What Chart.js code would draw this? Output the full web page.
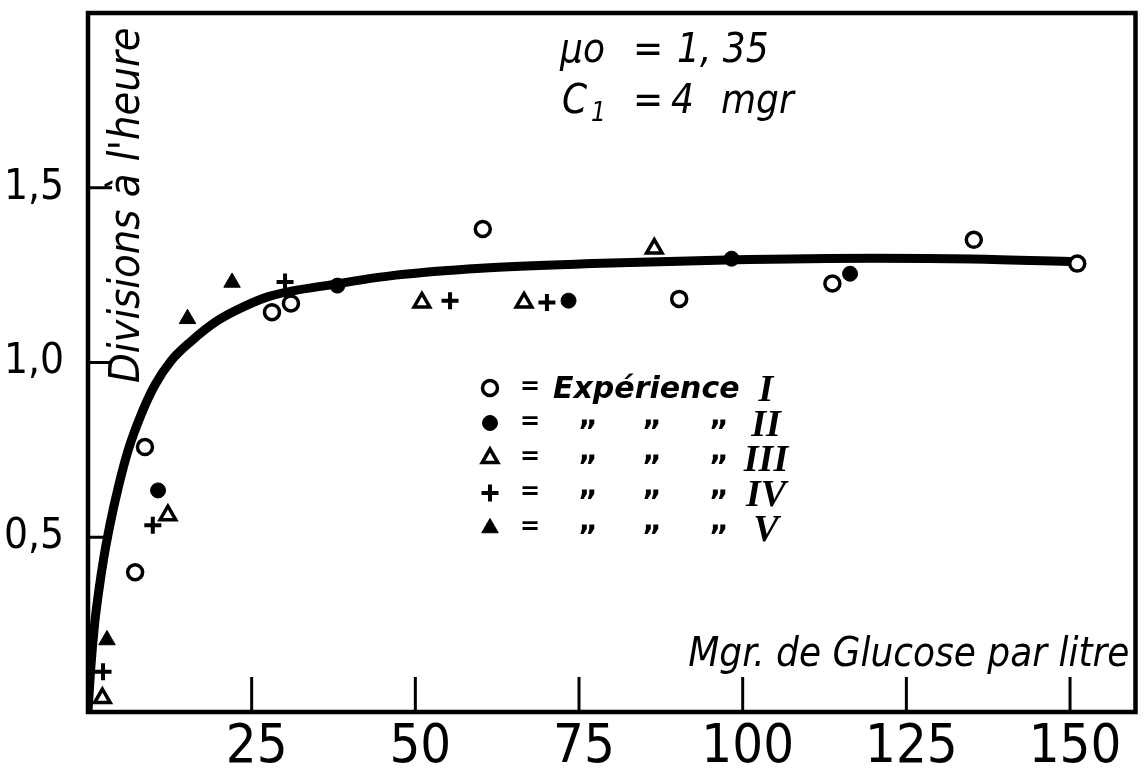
<!DOCTYPE html>
<html lang="fr">
<head>
<meta charset="utf-8">
<title>Divisions à l'heure — Glucose</title>
<script src="https://cdn.jsdelivr.net/npm/chart.js@4/dist/chart.umd.min.js"></script>
<style>
  html, body { margin: 0; padding: 0; background: #fff; }
  #wrap { width: 1148px; height: 771px; }
  canvas { display: block; }
</style>
</head>
<body>
<div id="wrap"><canvas id="c" width="1148" height="771"></canvas></div>
<script>
// Glucose concentration (mg per litre) and growth rate (divisions per hour)
const expI_x   = [7.2, 8.7, 28.1, 31.0, 60.3, 90.3, 113.7, 135.3, 151.1];
const expI_y   = [0.40, 0.758, 1.144, 1.169, 1.382, 1.182, 1.226, 1.351, 1.283];
const expII_x  = [10.7, 38.1, 73.4, 98.3, 116.4];
const expII_y  = [0.634, 1.22, 1.177, 1.297, 1.254];
const expIII_x = [2.2, 12.2, 51.0, 66.6, 86.5];
const expIII_y = [0.04, 0.563, 1.172, 1.172, 1.326];
const expIV_x  = [2.3, 9.9, 30.1, 55.3, 70.1];
const expIV_y  = [0.115, 0.534, 1.23, 1.177, 1.172];
const expV_x   = [2.9, 15.2, 22.0];
const expV_y   = [0.206, 1.125, 1.229];

// Fitted curve (mu0 = 1,35 ; C1 = 4 mgr), as drawn
const curveX = [0, 0.4, 1.0, 1.6, 2.4, 3.4, 4.65, 6.15, 8.2, 10.2, 12.7, 15.7, 19.8, 23.8, 27.8, 38, 47, 60, 77, 97.5, 120, 135, 151];
const curveY = [0, 0.12, 0.25, 0.34, 0.44, 0.54, 0.645, 0.75, 0.855, 0.935, 1.005, 1.06, 1.12, 1.16, 1.19, 1.225, 1.25, 1.27, 1.283, 1.293, 1.298, 1.296, 1.288];

const xTickValues = [25, 50, 75, 100, 125, 150];
const yTickValues = [0.5, 1.0, 1.5];
const yTickLabels = ['0,5', '1,0', '1,5'];

const expNames = ['I', 'II', 'III', 'IV', 'V'];
const xTitle = 'Mgr. de Glucose par litre';
const yTitle = 'Divisions à l\'heure';

const NARROW = '"Liberation Sans Narrow", "DejaVu Sans Condensed", "Liberation Sans", sans-serif';
const INK = '#000';

const pts = (xs, ys) => xs.map((x, i) => ({ x, y: ys[i] }));

const markerStyles = [
  { pointStyle: 'circle',   pointRadius: 7.5, pointBorderWidth: 3.5, pointBackgroundColor: '#fff', pointBorderColor: INK },
  { pointStyle: 'circle',   pointRadius: 7.5, pointBorderWidth: 1,   pointBackgroundColor: INK,    pointBorderColor: INK },
  { pointStyle: 'triangle', pointRadius: 9,   pointBorderWidth: 3.5, pointBackgroundColor: '#fff', pointBorderColor: INK },
  { pointStyle: 'cross',    pointRadius: 8.5, pointBorderWidth: 4,   pointBackgroundColor: INK,    pointBorderColor: INK },
  { pointStyle: 'triangle', pointRadius: 9.5, pointBorderWidth: 1,   pointBackgroundColor: INK,    pointBorderColor: INK }
];
const seriesData = [
  pts(expI_x, expI_y), pts(expII_x, expII_y), pts(expIII_x, expIII_y),
  pts(expIV_x, expIV_y), pts(expV_x, expV_y)
];

const datasets = seriesData.map((d, i) => Object.assign({
  label: 'Expérience ' + expNames[i],
  data: d,
  showLine: false,
  order: 0
}, markerStyles[i]));

datasets.push({
  label: 'courbe',
  data: pts(curveX, curveY),
  showLine: true,
  borderColor: INK,
  borderWidth: 9,
  pointRadius: 0,
  cubicInterpolationMode: 'monotone',
  fill: false,
  order: 10
});

// Frame, inner tick marks and all free text
const decorations = {
  id: 'decorations',
  beforeDatasetsDraw(chart) {
    const { ctx, chartArea: a, scales } = chart;
    ctx.save();
    ctx.strokeStyle = INK;
    ctx.lineCap = 'butt';
    ctx.lineWidth = 3;
    xTickValues.forEach(v => {
      const px = scales.x.getPixelForValue(v);
      ctx.beginPath(); ctx.moveTo(px, a.bottom); ctx.lineTo(px, a.bottom - 35); ctx.stroke();
    });
    yTickValues.forEach(v => {
      const py = scales.y.getPixelForValue(v);
      ctx.beginPath(); ctx.moveTo(a.left, py); ctx.lineTo(a.left + 24, py); ctx.stroke();
    });
    ctx.restore();
  },
  afterDatasetsDraw(chart) {
    const { ctx, chartArea: a } = chart;
    ctx.save();
    ctx.strokeStyle = INK;
    ctx.lineWidth = 4.5;
    ctx.strokeRect(a.left, a.top, a.right - a.left, a.bottom - a.top);
    ctx.restore();
  },
  afterDraw(chart) {
    const { ctx, chartArea: a } = chart;
    const L = a.left, T = a.top;
    ctx.save();
    ctx.fillStyle = INK;

    // y title, reading upward
    ctx.save();
    ctx.translate(L + 51, T + 370);
    ctx.rotate(-Math.PI / 2);
    ctx.font = 'italic 43px ' + NARROW;
    ctx.textAlign = 'left';
    ctx.textBaseline = 'alphabetic';
    ctx.fillText(yTitle, 0, 0);
    ctx.restore();

    // x title
    ctx.font = 'italic 40px ' + NARROW;
    ctx.textAlign = 'right';
    ctx.textBaseline = 'alphabetic';
    ctx.fillText(xTitle, a.right - 6, a.bottom - 46);

    // parameters
    ctx.textAlign = 'left';
    ctx.font = 'italic 40px ' + NARROW;
    ctx.fillText('\u03BCo', L + 472, T + 49);
    ctx.fillText('=', L + 545, T + 49);
    ctx.fillText('1, 35', L + 589, T + 49);
    ctx.fillText('C', L + 474, T + 100);
    ctx.font = 'italic 26px ' + NARROW;
    ctx.fillText('1', L + 503, T + 108);
    ctx.font = 'italic 40px ' + NARROW;
    ctx.fillText('=', L + 545, T + 100);
    ctx.fillText('4', L + 583, T + 100);
    ctx.fillText('mgr', L + 633, T + 100);

    // key
    const symX = L + 402, eqX = L + 442, numX = L + 678;
    const dittoX = [L + 500, L + 564, L + 631];
    const rowY0 = T + 375, rowStep = 35;
    expNames.forEach((name, i) => {
      const y = rowY0 + i * rowStep;
      const st = markerStyles[i];
      ctx.fillStyle = st.pointBackgroundColor;
      ctx.strokeStyle = st.pointBorderColor;
      ctx.lineWidth = st.pointBorderWidth;
      Chart.helpers.drawPoint(ctx, {
        pointStyle: st.pointStyle, radius: st.pointRadius, rotation: 0, borderWidth: st.pointBorderWidth
      }, symX, y);
      ctx.fillStyle = INK;
      ctx.textBaseline = 'middle';
      ctx.textAlign = 'center';
      ctx.font = 'bold 24px "DejaVu Sans", sans-serif';
      ctx.fillText('=', eqX, y);
      if (i === 0) {
        ctx.textAlign = 'left';
        ctx.textBaseline = 'alphabetic';
        ctx.font = 'italic bold 30px "DejaVu Sans", sans-serif';
        ctx.fillText('Expérience', L + 465, y + 10);
      } else {
        ctx.textAlign = 'center';
        ctx.textBaseline = 'alphabetic';
        ctx.font = 'bold 30px "DejaVu Sans", sans-serif';
        dittoX.forEach(dx => ctx.fillText('\u201E', dx, y + 2));
      }
      ctx.textAlign = 'center';
      ctx.textBaseline = 'alphabetic';
      ctx.font = 'italic bold 38px "Liberation Serif", serif';
      ctx.fillText(name, numX, y + 13);
    });
    ctx.restore();
  }
};

new Chart(document.getElementById('c'), {
  type: 'scatter',
  data: { datasets },
  plugins: [decorations],
  options: {
    responsive: false,
    animation: false,
    layout: { padding: { top: 13, right: 2, left: 0, bottom: 0 } },
    plugins: { legend: { display: false }, tooltip: { enabled: false } },
    scales: {
      x: {
        type: 'linear', min: 0, max: 160,
        afterBuildTicks: s => { s.ticks = xTickValues.map(v => ({ value: v })); },
        afterFit: s => { s.height = 59; s.paddingLeft = 0; s.paddingRight = 0; },
        grid: { display: false, drawTicks: false },
        border: { display: false },
        ticks: {
          color: INK, padding: 9, labelOffset: 5,
          font: { family: NARROW, size: 54, lineHeight: 1 },
          callback: v => String(v)
        }
      },
      y: {
        type: 'linear', min: 0, max: 2,
        afterBuildTicks: s => { s.ticks = yTickValues.map(v => ({ value: v })); },
        afterFit: s => { s.width = 88; s.paddingTop = 0; s.paddingBottom = 0; },
        grid: { display: false, drawTicks: false },
        border: { display: false },
        ticks: {
          color: INK, padding: 24,
          font: { family: NARROW, size: 42, lineHeight: 1 },
          callback: v => yTickLabels[yTickValues.indexOf(v)]
        }
      }
    }
  }
});
</script>
</body>
</html>
